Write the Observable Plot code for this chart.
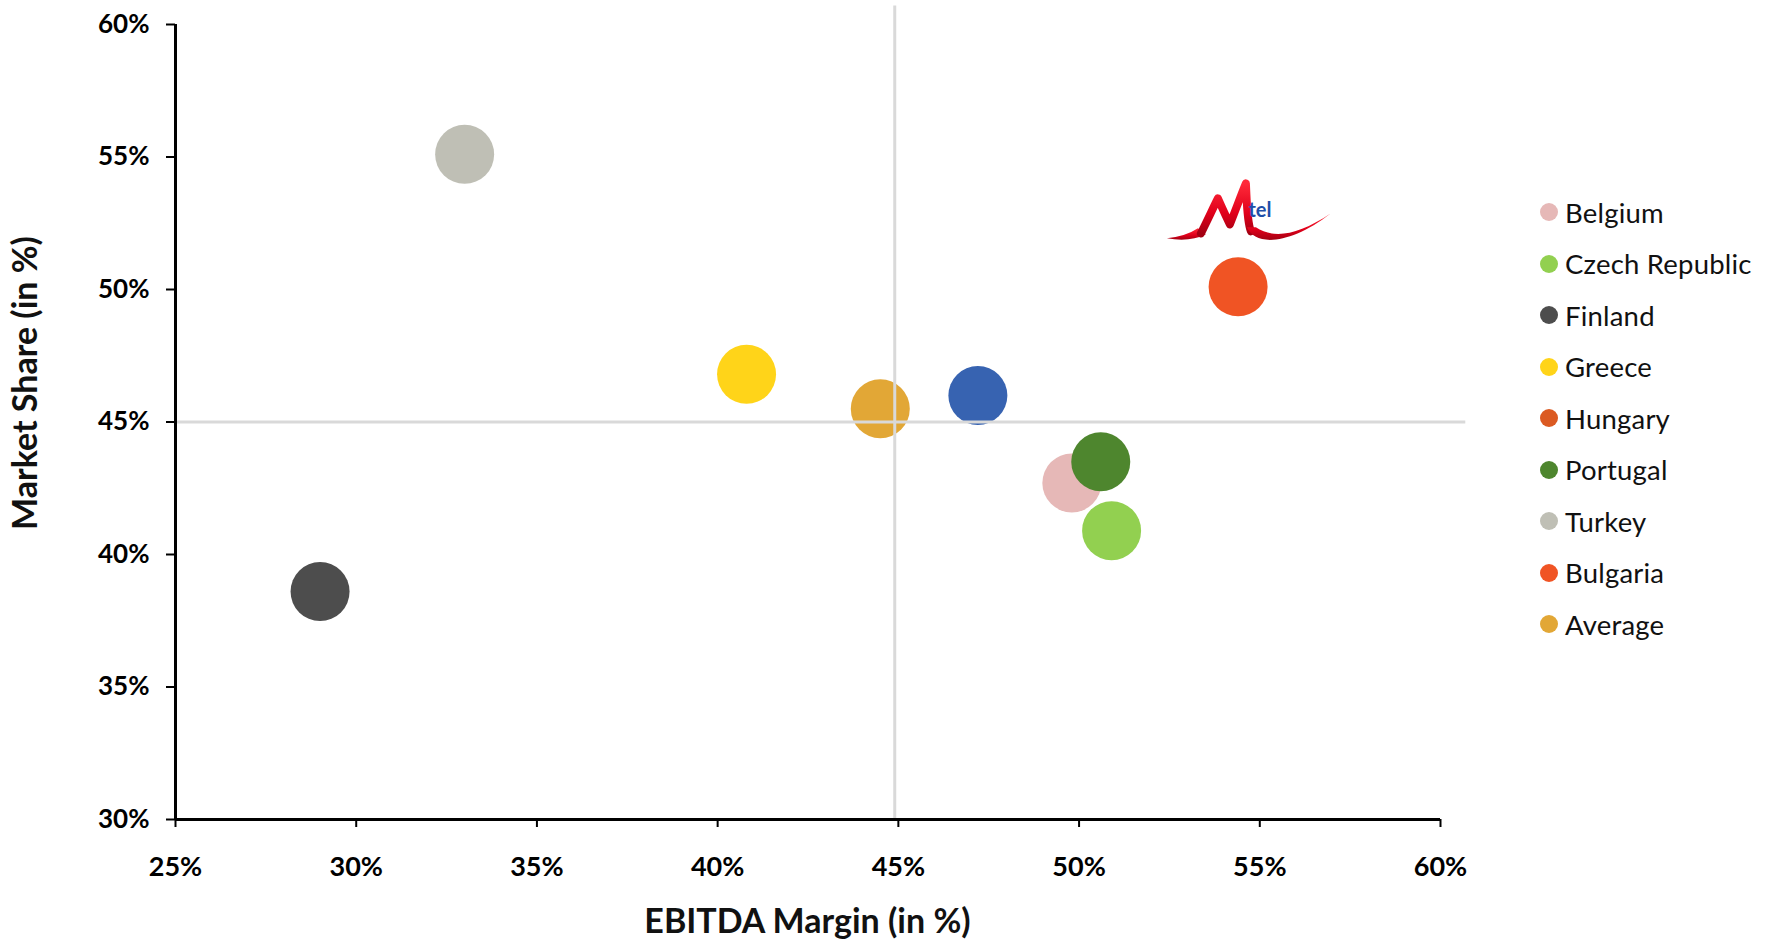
<!DOCTYPE html>
<html>
<head>
<meta charset="utf-8">
<script src="https://cdn.jsdelivr.net/npm/d3@7"></script>
<script src="https://cdn.jsdelivr.net/npm/@observablehq/plot@0.6"></script>
<style>
  body { margin: 0; background: #fff; font-family: Lato, "Open Sans", sans-serif; }
  #wrap { position: relative; width: 1767px; height: 944px; }
  .legend-row { position: absolute; left: 1540px; height: 36px; display: flex; align-items: center; font-size: 27.5px; color: #111; white-space: nowrap; letter-spacing: 0.2px; }
  .legend-row .sw { width: 18px; height: 18px; border-radius: 50%; margin-right: 7px; flex: none; }
</style>
</head>
<body>
<div id="wrap"></div>
<script>
// Legend entries
const legendNames = ["Belgium", "Czech Republic", "Finland", "Greece", "Hungary", "Portugal", "Turkey", "Bulgaria", "Average"];
const legendColors = ["#e6b8b7", "#92d050", "#4d4d4d", "#ffd419", "#db5a22", "#4e862e", "#bfbfb5", "#f05424", "#e2a736"];

// Operators: EBITDA margin (%) vs market share (%)
const dotNames = ["Finland", "Turkey", "Greece", "Average", "Other", "Bulgaria", "Belgium", "Portugal", "Czech Republic"];
const ebitdaMargin = [29.0, 33.0, 40.8, 44.5, 47.2, 54.4, 49.8, 50.6, 50.9];
const marketShare = [38.6, 55.1, 46.8, 45.5, 46.0, 50.1, 42.7, 43.5, 40.9];
const otherColor = "#3763b1";

// Axis ticks, titles and reference lines
const xTicks = [25, 30, 35, 40, 45, 50, 55, 60];
const yTicks = [30, 35, 40, 45, 50, 55, 60];
const xTitle = "EBITDA Margin (in %)";
const yTitle = "Market Share (in %)";
const avgMargin = 44.9;
const avgShare = 45;

const points = dotNames.map((name, i) => ({ name, x: ebitdaMargin[i], y: marketShare[i] }));

const chart = Plot.plot({
  width: 1767,
  height: 944,
  marginLeft: 175,
  marginRight: 327,
  marginTop: 24,
  marginBottom: 125,
  style: { fontFamily: "Lato, 'Open Sans', sans-serif", background: "white", color: "#000" },
  x: { domain: [25, 60] },
  y: { domain: [30, 60] },
  color: { domain: [...legendNames, "Other"], range: [...legendColors, otherColor] },
  marks: [
    Plot.dot(points, { x: "x", y: "y", r: 29.5, fill: "name" }),
    Plot.ruleY([avgShare], { x1: 25, x2: 60.7, stroke: "#d9d9d9", strokeWidth: 3 }),
    Plot.ruleX([avgMargin], { y1: 30, y2: 60.7, stroke: "#d9d9d9", strokeWidth: 3 }),
    Plot.axisX({ ticks: xTicks, tickFormat: d => d + "%", tickSize: 8, tickPadding: 29, fontSize: 27, fontWeight: 700, strokeWidth: 2, label: null }),
    Plot.axisY({ ticks: yTicks, tickFormat: d => d + "%", tickSize: 9, tickPadding: 17, fontSize: 26, fontWeight: 700, strokeWidth: 2, label: null }),
    Plot.ruleY([30], { x1: 25, x2: 60, stroke: "#000", strokeWidth: 3 }),
    Plot.ruleX([25], { y1: 30, y2: 60, stroke: "#000", strokeWidth: 3 })
  ]
});

const sx = chart.scale("x"), sy = chart.scale("y");
const svg = d3.select(chart);

// Axis titles
const xMid = (sx.range[0] + sx.range[1]) / 2;
svg.append("text")
  .attr("x", xMid).attr("y", 933)
  .attr("text-anchor", "middle")
  .attr("font-size", 34).attr("font-weight", 700).attr("fill", "#111")
  .text(xTitle);
svg.append("text")
  .attr("transform", "translate(37,383) rotate(-90)")
  .attr("text-anchor", "middle")
  .attr("font-size", 34).attr("font-weight", 700).attr("fill", "#111")
  .text(yTitle);

// Mtel logo above the Bulgaria point
const bi = dotNames.indexOf("Bulgaria");
const bx = sx.apply(ebitdaMargin[bi]), by = sy.apply(marketShare[bi]);
const defs = svg.append("defs");
const grad = defs.append("linearGradient").attr("id", "mtel-red").attr("x1", 0).attr("y1", 0).attr("x2", 0).attr("y2", 1);
grad.append("stop").attr("offset", "0%").attr("stop-color", "#ff2a3a");
grad.append("stop").attr("offset", "60%").attr("stop-color", "#e0001a");
grad.append("stop").attr("offset", "100%").attr("stop-color", "#a30012");
const logo = svg.append("g").attr("transform", `translate(${bx - 97.7},${by - 127})`);
// left tail
logo.append("path").attr("fill", "url(#mtel-red)")
  .attr("d", "M27,79 Q46,77 58,69 L66,75 Q50,83 27,79 Z");
// the M strokes
logo.append("path").attr("fill", "none").attr("stroke", "url(#mtel-red)")
  .attr("stroke-width", 8).attr("stroke-linejoin", "round").attr("stroke-linecap", "round")
  .attr("d", "M61,74 C68,60 73,49 78,39 C82,48 86,57 90,65 C96,50 101,36 106,24 C107,44 107,62 111,72");
// right swoosh
logo.append("path").attr("fill", "url(#mtel-red)")
  .attr("d", "M107,68 C115,87 150,86 191,54 C158,76 134,80 116,68 Z");
logo.append("text")
  .attr("x", 120).attr("y", 58)
  .attr("font-family", "Lato, sans-serif").attr("font-weight", 700).attr("font-size", 20)
  .attr("fill", "#1f4fa8").text("tel");

const wrap = document.getElementById("wrap");
wrap.appendChild(chart);

// Legend column on the right
legendNames.forEach((name, i) => {
  const row = document.createElement("div");
  row.className = "legend-row";
  row.style.top = (212 + i * 51.5 - 18) + "px";
  const sw = document.createElement("span");
  sw.className = "sw";
  sw.style.background = legendColors[i];
  const label = document.createElement("span");
  label.textContent = name;
  row.appendChild(sw);
  row.appendChild(label);
  wrap.appendChild(row);
});
</script>
</body>
</html>
